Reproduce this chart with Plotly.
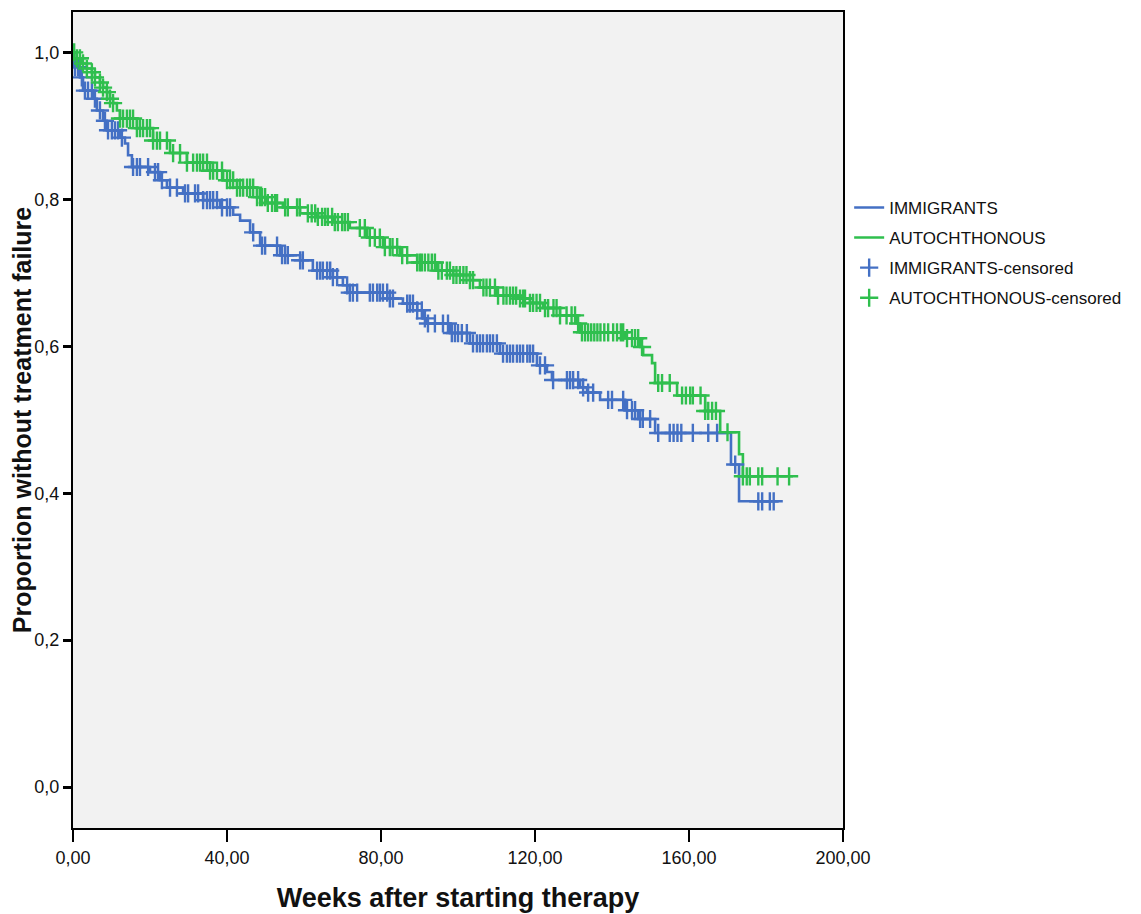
import numpy as np
import plotly.graph_objects as go

# ---------------- data ----------------
imm_times = [0, 0.3, 1.8, 2.6, 5.2, 6.2, 7.8, 8.8, 12.2, 13.5, 14.3, 15.3, 20.0, 22.6,
             24.4, 28.6, 33.8, 38.2, 41.6, 43.4, 46.0, 48.6, 53.8, 59.0, 62.3, 67.5,
             70.1, 71.9, 82.3, 85.7, 89.4, 90.9, 91.9, 97.9, 103.1, 110.9, 120.5,
             123.1, 124.4, 131.7, 133.5, 136.9, 143.4, 146.8, 151.2, 170.9, 173.0]
imm_surv = [1.0, 0.980, 0.966, 0.948, 0.937, 0.921, 0.907, 0.894, 0.884, 0.876, 0.860,
            0.844, 0.837, 0.826, 0.816, 0.808, 0.799, 0.789, 0.779, 0.771, 0.755,
            0.737, 0.724, 0.717, 0.703, 0.694, 0.683, 0.673, 0.665, 0.658, 0.649,
            0.638, 0.631, 0.618, 0.604, 0.590, 0.574, 0.565, 0.554, 0.544, 0.537,
            0.527, 0.513, 0.501, 0.482, 0.439, 0.389]
imm_end = 183.1

aut_times = [0, 1.0, 2.3, 3.6, 4.9, 5.7, 7.0, 7.8, 8.8, 9.6, 10.4, 11.4, 12.2, 16.6,
             20.8, 25.2, 29.6, 35.6, 39.0, 42.6, 47.8, 50.4, 54.5, 59.0, 63.4, 67.5,
             71.9, 76.4, 80.5, 84.9, 89.4, 94.5, 98.7, 103.1, 105.7, 110.1, 116.1,
             118.7, 122.1, 126.5, 130.9, 131.7, 143.4, 147.3, 148.1, 150.4, 151.2,
             156.9, 164.2, 168.1, 173.0, 174.0]
aut_surv = [1.0, 0.992, 0.985, 0.978, 0.973, 0.966, 0.959, 0.952, 0.946, 0.937, 0.931,
            0.921, 0.910, 0.897, 0.880, 0.863, 0.850, 0.839, 0.826, 0.816, 0.803,
            0.795, 0.789, 0.781, 0.776, 0.769, 0.761, 0.748, 0.735, 0.724, 0.714,
            0.703, 0.697, 0.690, 0.680, 0.669, 0.665, 0.659, 0.652, 0.642, 0.631,
            0.619, 0.611, 0.599, 0.588, 0.577, 0.550, 0.533, 0.512, 0.483, 0.453, 0.423]
aut_end = 187.0

imm_censored = [0.5, 1.3, 2.3, 3.1, 3.9, 4.9, 5.7, 7.0, 8.3, 9.1, 10.1, 10.9, 11.7, 12.7,
                15.6, 16.6, 17.4, 19.5, 21.3, 22.1, 23.1, 25.2, 27.0, 29.1, 29.9, 31.7,
                32.5, 33.8, 34.8, 35.6, 36.4, 37.4, 38.7, 40.0, 40.8, 46.8, 49.1, 49.9,
                53.0, 54.3, 55.1, 55.8, 59.0, 59.7, 63.4, 64.2, 64.9, 66.0, 66.8, 67.5,
                68.6, 71.2, 71.9, 72.7, 73.8, 77.1, 77.9, 79.0, 79.7, 80.5, 81.6, 82.3,
                83.1, 86.8, 87.5, 88.3, 89.4, 90.6, 91.4, 92.2, 94.0, 96.1, 97.4, 98.4,
                99.2, 100.0, 101.0, 102.3, 103.9, 104.9, 105.7, 106.5, 107.5, 108.3,
                109.1, 110.1, 111.7, 112.7, 113.5, 114.3, 115.3, 116.1, 116.9, 118.0,
                118.7, 119.5, 121.3, 122.6, 124.7, 128.3, 129.1, 129.9, 131.2, 132.5,
                133.8, 135.1, 139.0, 140.0, 142.9, 143.9, 145.2, 146.0, 147.3, 148.0,
                149.9, 152.0, 155.0, 156.0, 157.0, 158.0, 161.0, 165.0, 167.3, 172.0,
                178.0, 179.0, 181.0, 182.0]

aut_censored = [0.3, 1.0, 1.8, 2.6, 3.6, 4.9, 5.7, 7.0, 7.8, 8.8, 9.6, 10.4, 12.2, 13.0,
                14.0, 14.8, 15.6, 16.6, 17.4, 18.2, 19.2, 20.0, 20.8, 21.8, 22.6, 24.4,
                26.0, 27.8, 29.6, 31.2, 32.2, 33.0, 33.8, 34.8, 35.6, 36.4, 37.4, 38.7,
                40.0, 40.8, 41.6, 42.6, 43.4, 44.2, 45.2, 46.0, 46.8, 47.8, 48.6, 49.1,
                49.9, 50.6, 51.7, 52.5, 53.0, 55.1, 55.8, 58.2, 58.9, 61.0, 62.0, 62.9,
                63.6, 64.7, 65.5, 66.2, 67.3, 68.0, 68.8, 69.9, 70.6, 71.4, 74.5, 75.8,
                77.1, 78.4, 79.7, 81.0, 82.3, 83.0, 84.2, 85.5, 86.8, 89.4, 90.1, 90.6,
                91.4, 92.3, 93.2, 94.0, 94.9, 95.8, 97.1, 97.9, 98.8, 99.6, 100.5,
                101.4, 102.2, 103.1, 103.9, 106.6, 107.4, 108.3, 109.6, 110.4, 111.8,
                112.6, 113.5, 114.3, 115.1, 116.1, 116.9, 117.4, 118.7, 119.5, 120.4,
                121.3, 122.6, 123.4, 124.8, 125.6, 126.5, 128.2, 129.5, 130.4, 131.2,
                132.2, 133.0, 133.8, 134.6, 135.4, 136.2, 137.0, 138.0, 139.0, 140.3,
                141.3, 142.3, 142.9, 143.9, 145.2, 146.0, 146.8, 147.8, 152.0, 153.0,
                155.0, 158.2, 159.2, 160.3, 161.0, 163.0, 164.2, 165.0, 166.0, 167.0,
                170.0, 174.0, 175.0, 175.8, 178.0, 179.0, 183.0, 186.0]

x_tick_vals = [0, 40, 80, 120, 160, 200]
x_tick_text = ["0,00", "40,00", "80,00", "120,00", "160,00", "200,00"]
y_tick_vals = [0.0, 0.2, 0.4, 0.6, 0.8, 1.0]
y_tick_text = ["0,0", "0,2", "0,4", "0,6", "0,8", "1,0"]

BLUE = "#4470c4"
GREEN = "#2fbf4e"


def step_value(times, surv, t):
    idx = np.searchsorted(np.asarray(times), np.asarray(t), side="right") - 1
    return np.asarray(surv)[idx]


fig = go.Figure()

for name, times, surv, end, col in [
    ("IMMIGRANTS", imm_times, imm_surv, imm_end, BLUE),
    ("AUTOCHTHONOUS", aut_times, aut_surv, aut_end, GREEN),
]:
    fig.add_trace(go.Scatter(
        x=list(times) + [end], y=list(surv) + [surv[-1]],
        mode="lines", line=dict(color=col, width=2.6, shape="hv"),
        name=name, legendgroup=name,
    ))

for name, times, surv, cens, col in [
    ("IMMIGRANTS-censored", imm_times, imm_surv, imm_censored, BLUE),
    ("AUTOCHTHONOUS-censored", aut_times, aut_surv, aut_censored, GREEN),
]:
    fig.add_trace(go.Scatter(
        x=cens, y=step_value(times, surv, cens),
        mode="markers",
        marker=dict(symbol="cross-thin", size=13, color=col,
                    line=dict(color=col, width=2.4)),
        name=name, legendgroup=name,
    ))

FONT = "Liberation Sans Narrow, Liberation Sans, Arial, sans-serif"

fig.update_layout(
    width=1133, height=906,
    margin=dict(l=65, r=298, t=2, b=86),
    paper_bgcolor="white", plot_bgcolor="#f2f2f2",
    font=dict(family=FONT, color="#111111"),
    showlegend=True,
    legend=dict(x=1.008, xanchor="left", y=0.782, yanchor="top",
                font=dict(family="Liberation Sans, Arial, sans-serif", size=17, color="#111111"),
                bgcolor="rgba(0,0,0,0)", tracegroupgap=5, itemwidth=30),
    xaxis=dict(range=[0, 200], tickvals=x_tick_vals, ticktext=x_tick_text,
               showgrid=False, zeroline=False, showline=True, linecolor="black",
               linewidth=2, mirror=True, ticks="outside", ticklen=12, tickwidth=2,
               tickcolor="black", tickfont=dict(size=18, family=FONT),
               title=dict(text="<b>Weeks after starting therapy</b>",
                          font=dict(size=27, family=FONT), standoff=22)),
    yaxis=dict(range=[-0.0557, 1.055], tickvals=y_tick_vals, ticktext=y_tick_text,
               showgrid=False, zeroline=False, showline=True, linecolor="black",
               linewidth=2, mirror=True, ticks="outside", ticklen=8, tickwidth=3,
               tickcolor="black", tickfont=dict(size=18, family=FONT),
               title=dict(text="<b>Proportion without treatment failure</b>",
                          font=dict(size=25, family=FONT), standoff=6)),
)

fig.write_html("out.html")
